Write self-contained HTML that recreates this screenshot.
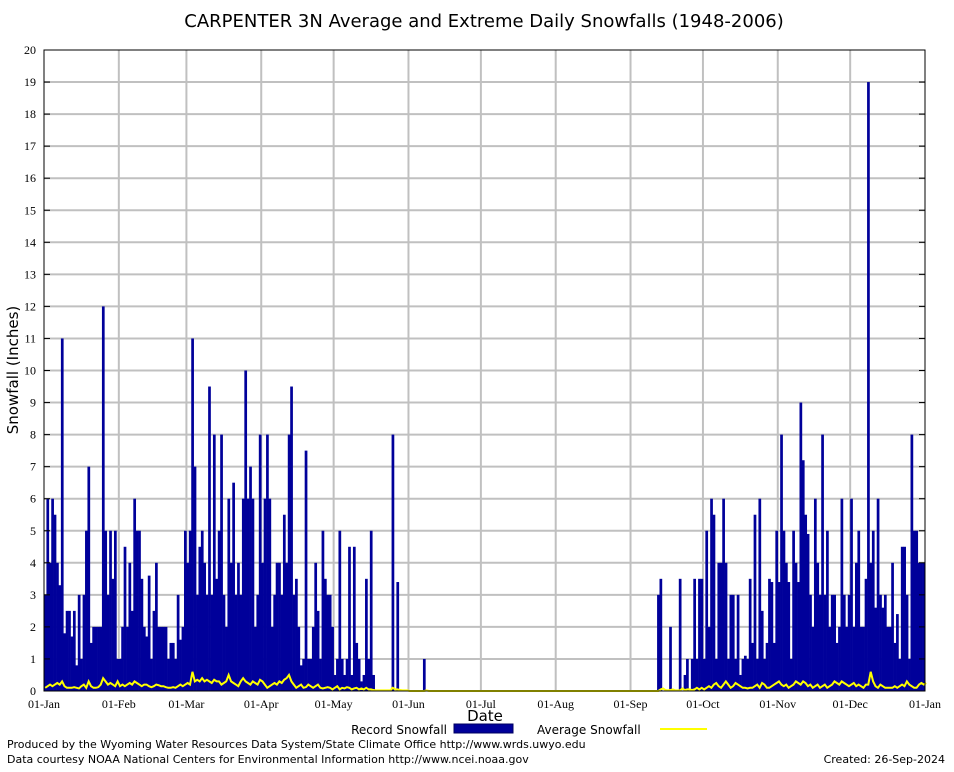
<!DOCTYPE html>
<html><head><meta charset="utf-8">
<style>
body{margin:0;background:#fff;width:954px;height:768px;overflow:hidden;font-family:"DejaVu Sans","Liberation Sans",sans-serif;}
svg text{font-family:"DejaVu Sans","Liberation Sans",sans-serif;}
svg text.tick{font-family:"Liberation Serif","DejaVu Serif",serif;}
</style></head>
<body>
<svg id="chart" width="954" height="768" xmlns="http://www.w3.org/2000/svg">
<rect x="0" y="0" width="954" height="768" fill="#fff"/>
<text x="484" y="27" text-anchor="middle" font-size="18">CARPENTER 3N Average and Extreme Daily Snowfalls (1948-2006)</text>
<text transform="translate(18,370) rotate(-90)" text-anchor="middle" font-size="15">Snowfall (Inches)</text>
<text x="485" y="721" text-anchor="middle" font-size="15">Date</text>
<g id="grid"></g><g id="bars"></g><g id="avg"></g><g id="axes"></g>
<g>
<text x="447" y="734" text-anchor="end" font-size="12">Record Snowfall</text>
<rect x="454" y="724" width="59" height="9" fill="#00009a" stroke="#000060"/>
<text x="537" y="734" font-size="12">Average Snowfall</text>
<line x1="660" y1="729" x2="707" y2="729" stroke="#ffff00" stroke-width="2"/>
</g>
<text x="7" y="748" font-size="11">Produced by the Wyoming Water Resources Data System/State Climate Office http://www.wrds.uwyo.edu</text>
<text x="7" y="763" font-size="11">Data courtesy NOAA National Centers for Environmental Information http://www.ncei.noaa.gov</text>
<text x="945" y="763" text-anchor="end" font-size="11">Created:  26-Sep-2024</text>
</svg>
<script>
const monthLabels=["01-Jan","01-Feb","01-Mar","01-Apr","01-May","01-Jun","01-Jul","01-Aug","01-Sep","01-Oct","01-Nov","01-Dec","01-Jan"];
const monthStartDays=[0,31,59,90,120,151,181,212,243,273,304,334,365];
const yTicks=[0,1,2,3,4,5,6,7,8,9,10,11,12,13,14,15,16,17,18,19,20];
const recordSnow=[
3,6,4,6,5.5,4,3.3,11,1.8,2.5,2.5,1.7,2.5,0.8,3,1,3,5,7,1.5,2,2,2,2,12,5,3,5,3.5,5,1,
1,2,4.5,2,4,2.5,6,5,5,3.5,2,1.7,3.6,1,2.5,4,2,2,2,2,1,1.5,1.5,1,3,1.6,2,5,
4,5,11,7,3,4.5,5,4,3,9.5,3,8,3.5,5,8,3,2,6,4,6.5,3,4,3,6,10,6,7,6,2,3,8,
4,6,8,6,2,3,4,4,3,5.5,4,8,9.5,3,3.5,2,0.8,1,7.5,1,1,2,4,2.5,1,5,3.5,3,3,2,
0.5,1,5,1,0.5,1,4.5,0.5,4.5,1.5,1,0.3,0.5,3.5,1,5,0.5,0,0,0,0,0,0,0,8,0,3.4,0,0,0,
0,0,0,0,0,0,0,1,0,0,0,0,0,0,0,0,0,0,0,0,0,0,0,0,0,0,0,0,0,0,
0,0,0,0,0,0,0,0,0,0,0,0,0,0,0,0,0,0,0,0,0,0,0,0,0,0,0,0,0,0,0,
0,0,0,0,0,0,0,0,0,0,0,0,0,0,0,0,0,0,0,0,0,0,0,0,0,0,0,0,0,0,0,
0,0,0,0,0,0,0,0,0,0,0,0,3,3.5,0,0,0,2,0,0,0,3.5,0,0.5,1,0,1,3.5,1,3.5,
3.5,1,5,2,6,5.5,1,4,4,6,4,1,3,3,1,3,0.5,1,1.1,1,3.5,1.5,5.5,1,6,2.5,1,1.5,3.5,3.4,1.5,
5,3.4,8,5,4,3.4,1,5,4,3.4,9,7.2,5.5,4.9,3,2,6,4,3,8,3,5,2,3,3,1.5,2,6,3,2,
3,6,2,4,5,2,2,3.5,19,4,5,2.6,6,3,2.6,3,2,2,4,1.5,2.4,1,4.5,4.5,3,1,8,5,5,4,4,4];
const avgSnow=[
.1,.15,.2,.15,.2,.25,.2,.3,.15,.1,.1,.1,.12,.1,.08,.15,.2,.1,.3,.15,.1,.1,.12,.2,.4,.3,.2,.25,.2,.15,.3,
.15,.2,.15,.2,.25,.2,.3,.25,.2,.15,.2,.2,.15,.12,.15,.2,.18,.15,.15,.12,.1,.1,.12,.1,.15,.2,.15,.2,
.25,.2,.6,.3,.35,.3,.4,.3,.35,.3,.25,.35,.3,.3,.2,.25,.3,.5,.3,.25,.2,.15,.3,.4,.3,.25,.2,.3,.25,.2,.35,
.3,.2,.1,.15,.2,.25,.2,.3,.25,.35,.4,.5,.3,.2,.1,.15,.2,.1,.12,.2,.15,.1,.15,.2,.1,.08,.1,.12,.1,.05,
.1,.15,.05,.1,.08,.12,.1,.05,.08,.1,.05,.08,.05,.1,.05,.05,.03,.02,.02,.02,.02,.02,.02,.02,.1,.05,.05,.03,.02,.02,.02,
0,0,0,0,0,0,0,.02,0,0,0,0,0,0,0,0,0,0,0,0,0,0,0,0,0,0,0,0,0,0,
0,0,0,0,0,0,0,0,0,0,0,0,0,0,0,0,0,0,0,0,0,0,0,0,0,0,0,0,0,0,0,
0,0,0,0,0,0,0,0,0,0,0,0,0,0,0,0,0,0,0,0,0,0,0,0,0,0,0,0,0,0,0,
0,0,0,0,0,0,0,0,0,0,0,0,.05,.08,.03,.02,.03,.05,.02,.02,.02,.08,.03,.05,.05,.03,.05,.1,.05,.1,
.05,.1,.15,.1,.2,.25,.15,.1,.2,.3,.2,.1,.15,.25,.2,.15,.1,.1,.08,.1,.1,.15,.2,.1,.25,.2,.1,.1,.15,.2,.25,
.3,.2,.15,.2,.1,.15,.2,.3,.25,.2,.3,.25,.15,.2,.1,.15,.2,.1,.15,.2,.1,.15,.2,.3,.25,.2,.3,.25,.2,.15,
.2,.25,.15,.2,.15,.1,.2,.2,.6,.3,.15,.1,.2,.15,.1,.1,.1,.1,.15,.1,.15,.2,.15,.3,.2,.15,.1,.1,.2,.25,.2,.25];

const NS="http://www.w3.org/2000/svg";
const L=44,R=925,T=50,B=691,YMAX=20;
const xs=d=>L+d*(R-L)/365;
const ys=v=>B-v*(B-T)/YMAX;
function mk(tag,attrs,parent){const e=document.createElementNS(NS,tag);for(const k in attrs)e.setAttribute(k,attrs[k]);parent.appendChild(e);return e;}
const grid=document.getElementById('grid'),bars=document.getElementById('bars'),avg=document.getElementById('avg'),axes=document.getElementById('axes');
yTicks.forEach(t=>{
  const y=ys(t);
  if(t>0&&t<YMAX){const g=mk('line',{x1:L,x2:R,y1:y,y2:y,stroke:'#c0c0c0','stroke-width':2},grid);
  
  }
  const lb=mk('text',{x:36,y:y+4,'text-anchor':'end','font-size':12,'class':'tick'},axes);lb.textContent=t;
  
  
  mk('line',{x1:L,x2:L+6,y1:y,y2:y,stroke:'#000'},axes);
  mk('line',{x1:R-6,x2:R,y1:y,y2:y,stroke:'#000'},axes);
});
monthStartDays.forEach((d,i)=>{
  const x=xs(d);
  if(i>0&&i<12){const g=mk('line',{x1:x,x2:x,y1:T,y2:B,stroke:'#c0c0c0','stroke-width':2},grid);
  
  }
  const lb=mk('text',{x:x,y:708,'text-anchor':'middle','font-size':12,'class':'tick'},axes);lb.textContent=monthLabels[i];
  
  
});
const bw=(R-L)/365;
recordSnow.forEach((v,d)=>{
  if(v<=0)return;
  const x0=xs(d),x1=Math.min(R,x0+bw);
  const r=mk('rect',{x:x0,y:ys(v),width:Math.max(0,x1-x0)+0.3,height:B-ys(v),fill:'#00009a'},bars);
  
  
});
const pts=avgSnow.map((v,d)=>xs(d+0.5)+','+ys(v)).join(' ');
const pl=mk('polyline',{points:pts,fill:'none',stroke:'#ffff00','stroke-width':2},avg);


const fr=mk('rect',{x:L,y:T,width:R-L,height:B-T,fill:'none',stroke:'#000','stroke-width':1},axes);


</script>
</body></html>
